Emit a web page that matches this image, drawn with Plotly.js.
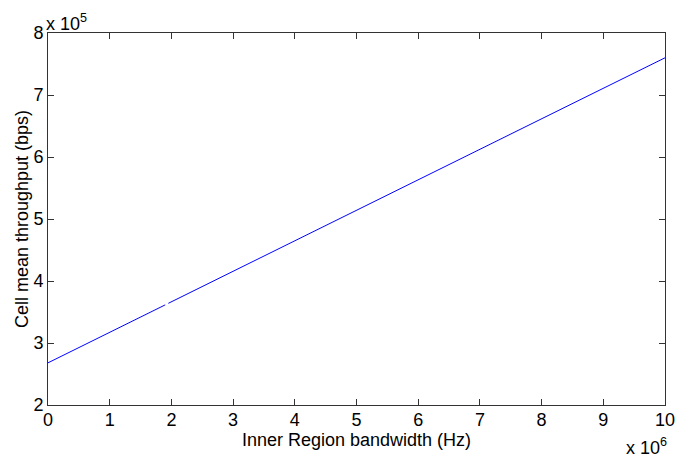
<!DOCTYPE html>
<html>
<head>
<meta charset="utf-8">
<script src="https://cdn.plot.ly/plotly-3.0.1.min.js"></script>
<style>html,body{margin:0;padding:0;background:#fff;}#chart{width:675px;height:459px;}</style>
</head>
<body>
<div id="chart"></div>
<script>
// Inner region bandwidth (Hz) and cell mean throughput (bps); null marks the small break in the curve
const bandwidthHz = [0, 1.9e6, null, 1.95e6, 10e6];
const throughputBps = [2.68e5, 3.615e5, null, 3.64e5, 7.60e5];
const xTickVals = [0, 1e6, 2e6, 3e6, 4e6, 5e6, 6e6, 7e6, 8e6, 9e6, 10e6];
const xTickText = ['0','1','2','3','4','5','6','7','8','9','10'];
const yTickVals = [2e5, 3e5, 4e5, 5e5, 6e5, 7e5, 8e5];
const yTickText = ['2','3','4','5','6','7','8'];

const font = {family: 'Liberation Sans, Arial, Helvetica, sans-serif', size: 18, color: '#000'};
const labelFont = {family: 'Liberation Sans, Arial, Helvetica, sans-serif', size: 18, color: '#000'};

const trace = {
  x: bandwidthHz,
  y: throughputBps,
  mode: 'lines',
  line: {color: '#0000ff', width: 1},
  connectgaps: false,
  hoverinfo: 'skip'
};

const axisCommon = {
  showgrid: false,
  zeroline: false,
  showline: true,
  linecolor: '#333',
  linewidth: 1,
  mirror: 'ticks',
  ticks: 'inside',
  ticklen: 6,
  tickcolor: '#333',
  tickwidth: 1,
  tickfont: font,
  automargin: false,
  ticklabeloverflow: 'allow'
};

const layout = {
  width: 675,
  height: 459,
  margin: {l: 48, r: 10, t: 33, b: 54},
  paper_bgcolor: '#fff',
  plot_bgcolor: '#fff',
  showlegend: false,
  font: font,
  xaxis: Object.assign({}, axisCommon, {
    range: [0, 10e6],
    tickmode: 'array',
    tickvals: xTickVals,
    ticktext: xTickText,
    ticklabelstandoff: -2,
    title: {text: 'Inner Region bandwidth (Hz)', font: labelFont, standoff: 0}
  }),
  yaxis: Object.assign({}, axisCommon, {
    range: [2e5, 8e5],
    tickmode: 'array',
    tickvals: yTickVals,
    ticktext: yTickText,
    title: {text: 'Cell mean throughput (bps)', font: labelFont, standoff: 0}
  }),
  annotations: [
    {xref: 'paper', yref: 'paper', x: 0, y: 1, xanchor: 'left', yanchor: 'bottom',
     text: 'x 10<sup>5</sup>', showarrow: false, font: font, xshift: -4, yshift: -3},
    {xref: 'paper', yref: 'paper', x: 1, y: 0, xanchor: 'right', yanchor: 'top',
     text: 'x 10<sup>6</sup>', showarrow: false, font: font, yshift: -28, xshift: 4}
  ]
};

Plotly.newPlot('chart', [trace], layout, {displayModeBar: false, staticPlot: true});
</script>
</body>
</html>
